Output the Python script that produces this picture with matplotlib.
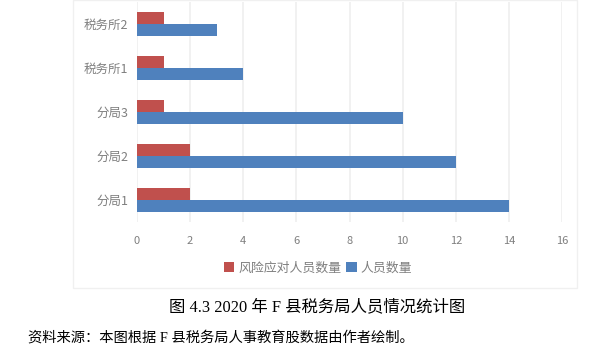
import matplotlib.pyplot as plt
import matplotlib.patches as mpatches
import numpy as np

plt.rcParams['font.family'] = ['Noto Sans CJK SC', 'DejaVu Sans']

categories = ["分局1", "分局2", "分局3", "税务所1", "税务所2"]
risk_staff = [2, 2, 1, 1, 1]
total_staff = [14, 12, 10, 4, 3]
xticks = [0, 2, 4, 6, 8, 10, 12, 14, 16]

red = "#C0504D"
blue = "#4F81BD"
gray = "#7F7F7F"

fig = plt.figure(figsize=(5.98, 3.49), dpi=100)
ax = fig.add_axes([0.229, 0.364, 0.711, 0.630])

y = np.arange(len(categories))
h = 0.27
ax.barh(y + h / 2, risk_staff, height=h, color=red, label="风险应对人员数量", zorder=3)
ax.barh(y - h / 2, total_staff, height=h, color=blue, label="人员数量", zorder=3)

ax.set_xlim(0, 16)
ax.set_ylim(-0.5, 4.5)
ax.set_xticks(xticks)
ax.set_yticks(y)
ax.set_yticklabels(categories)
ax.tick_params(axis='x', colors=gray, labelsize=8, length=0, pad=10)
ax.tick_params(axis='y', colors=gray, labelsize=9, length=0, pad=6)
for s in ax.spines.values():
    s.set_visible(False)
ax.grid(axis='x', color="#EFEFEF", linewidth=1.2, zorder=0)

# outer chart frame
frame = mpatches.Rectangle((73 / 598, 1 - 288 / 349), (577 - 73) / 598, 288 / 349,
                           transform=fig.transFigure, fill=False,
                           edgecolor="#F0F0F0", linewidth=1)
fig.patches.append(frame)

fig.legend(loc='center', bbox_to_anchor=(0.532, 0.232), ncol=2, frameon=False,
           fontsize=9.3, labelcolor=gray, handlelength=0.8, handleheight=0.8,
           handletextpad=0.3, columnspacing=0.4)

fig.text(0.53, 1 - 307 / 349, "图 4.3 2020 年 F 县税务局人员情况统计图", ha='center', va='center',
         fontsize=11.8, family=['Liberation Serif', 'Noto Sans CJK SC'])
fig.text(28 / 598, 1 - 338 / 349, "资料来源：本图根据 F 县税务局人事教育股数据由作者绘制。", ha='left', va='center',
         fontsize=10.3, family=['Liberation Serif', 'Noto Sans CJK SC'])

fig.savefig("out.png", dpi=100)
